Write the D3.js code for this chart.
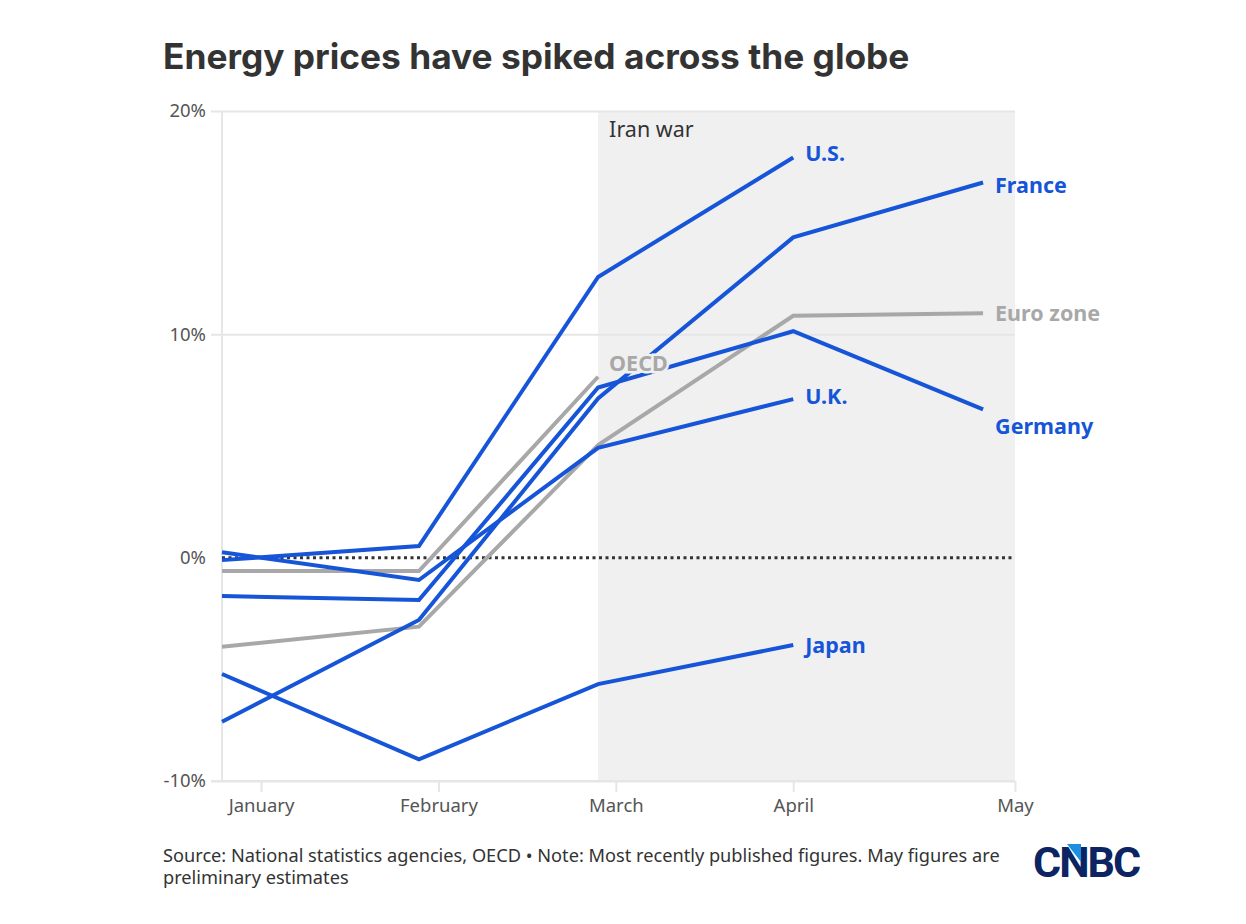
<!DOCTYPE html>
<html>
<head>
<meta charset="utf-8">
<script src="https://cdn.jsdelivr.net/npm/d3@7"></script>
<style>
  body { margin: 0; background: #fff; }
  svg text { font-family: "Noto Sans", "Open Sans", sans-serif; }
</style>
</head>
<body>
<svg id="chart" width="1246" height="924"></svg>
<script>
// months on a numeric axis (0 = January tick)
var monthTicks = [0, 1, 2, 3, 4.25];
var monthNames = ["January", "February", "March", "April", "May"];
var pointX = [-0.22, 0.89, 1.9, 3.0, 4.07];

var usValues = [-0.11, 0.52, 12.57, 17.92];
var franceValues = [-7.35, -2.79, 7.13, 14.34, 16.8];
var germanyValues = [-1.72, -1.9, 7.62, 10.14, 6.64];
var ukValues = [0.24, -1.0, 4.92, 7.1];
var japanValues = [-5.21, -9.03, -5.66, -3.91];
var oecdValues = [-0.6, -0.6, 8.1];
var euroValues = [-3.99, -3.09, 5.04, 10.83, 10.94];

var yTicks = [-10, 0, 10, 20];
var warStart = 1.9;

var blue = "#1655d8", grey = "#a8a8a8";

var series = [
    { name: "Euro zone", values: euroValues, color: grey, dx: 12, dy: 0 },
    { name: "OECD", values: oecdValues, color: grey, label: false },
    { name: "Japan", values: japanValues, color: blue, dx: 12, dy: 0 },
    { name: "U.K.", values: ukValues, color: blue, dx: 12, dy: -3 },
    { name: "Germany", values: germanyValues, color: blue, dx: 12, dy: 17 },
    { name: "France", values: franceValues, color: blue, dx: 12, dy: 3 },
    { name: "U.S.", values: usValues, color: blue, dx: 12, dy: -4 }
];

var svg = d3.select("#chart");
var margin = { top: 111, right: 231, bottom: 143, left: 222 };
var width = 1246 - margin.left - margin.right;
var height = 924 - margin.top - margin.bottom;

svg.append("text")
    .attr("x", 163)
    .attr("y", 69)
    .style("font-family", "Inter, 'Noto Sans', sans-serif")
    .style("font-size", "35.3px")
    .style("font-weight", "bold")
    .attr("fill", "#333")
    .text("Energy prices have spiked across the globe");

var g = svg.append("g").attr("transform", "translate(" + margin.left + "," + margin.top + ")");

var x = d3.scaleLinear()
    .domain([pointX[0], monthTicks[4]])
    .range([0, width]);

var y = d3.scaleLinear()
    .domain([-10, 20])
    .range([height, 0]);

// Iran war shading
g.append("rect")
    .attr("x", x(warStart))
    .attr("y", 0)
    .attr("width", width - x(warStart))
    .attr("height", height)
    .attr("fill", "#f0f0f0");

g.append("text")
    .attr("x", x(warStart) + 11)
    .attr("y", 26)
    .attr("fill", "#333")
    .style("font-size", "21.5px")
    .text("Iran war");

// Y grid + labels
var yAxis = g.append("g")
    .call(d3.axisLeft(y).tickValues(yTicks).tickSize(width + 11).tickFormat(function(d) { return d + "%"; }))
    .attr("transform", "translate(" + width + ",0)");
yAxis.select(".domain").remove();
yAxis.selectAll(".tick line")
    .attr("stroke", "#e6e6e6")
    .attr("stroke-width", 2)
    .attr("stroke-opacity", function(d) { return d === 0 ? 0 : 1; });
yAxis.selectAll(".tick text")
    .attr("fill", "#555")
    .attr("x", -width - 16)
    .style("font-size", "18.5px");

// vertical axis line
g.append("line")
    .attr("x1", 0).attr("x2", 0)
    .attr("y1", 0).attr("y2", height)
    .attr("stroke", "#e6e6e6")
    .attr("stroke-width", 2);

// X axis
var xAxis = g.append("g")
    .attr("transform", "translate(0," + height + ")")
    .call(d3.axisBottom(x).tickValues(monthTicks).tickSize(11).tickPadding(7)
        .tickFormat(function(d, i) { return monthNames[i]; }));
xAxis.select(".domain").attr("stroke", "#e6e6e6").attr("stroke-width", 2).attr("d", "M-11,0H" + width);
xAxis.selectAll(".tick line").attr("stroke", "#e6e6e6").attr("stroke-width", 2);
xAxis.selectAll(".tick text").attr("fill", "#555").style("font-size", "18.5px");

// zero line
g.append("line")
    .attr("x1", 0).attr("x2", width)
    .attr("y1", y(0)).attr("y2", y(0))
    .attr("stroke", "#333")
    .attr("stroke-width", 3)
    .attr("stroke-dasharray", "3,3.5");

var line = d3.line()
    .x(function(d, i) { return x(pointX[i]); })
    .y(function(d) { return y(d); });

// Attach lines
g.selectAll(".series")
    .data(series)
    .enter().append("path")
    .attr("class", "series")
    .attr("fill", "none")
    .attr("stroke", function(d) { return d.color; })
    .attr("stroke-width", 4)
    .attr("d", function(d) { return line(d.values); });

// OECD label with halo
g.append("text")
    .attr("x", x(pointX[oecdValues.length - 1]) + 11)
    .attr("y", y(oecdValues[oecdValues.length - 1]) - 6)
    .attr("fill", grey)
    .attr("stroke", "#f0f0f0")
    .attr("stroke-width", 5)
    .attr("paint-order", "stroke")
    .style("font-size", "21.5px")
    .style("font-weight", "bold")
    .text("OECD");

// end labels
g.selectAll(".end-label")
    .data(series.filter(function(d) { return d.label !== false; }))
    .enter().append("text")
    .attr("class", "end-label")
    .attr("x", function(d) { return x(pointX[d.values.length - 1]) + d.dx; })
    .attr("y", function(d) { return y(d.values[d.values.length - 1]) + d.dy; })
    .attr("dy", "0.35em")
    .attr("fill", function(d) { return d.color; })
    .style("font-size", "21.5px")
    .style("font-weight", "bold")
    .text(function(d) { return d.name; });

// footer
var foot = svg.append("text")
    .attr("x", 163)
    .attr("y", 862)
    .attr("fill", "#333")
    .style("font-size", "18.2px");
foot.append("tspan").attr("x", 163).text("Source: National statistics agencies, OECD \u2022 Note: Most recently published figures. May figures are");
foot.append("tspan").attr("x", 163).attr("dy", 22).text("preliminary estimates");

// logo
var logo = svg.append("g").attr("transform", "translate(1033,877)");
logo.append("text")
    .attr("x", 0).attr("y", 0)
    .attr("fill", "#0c2461")
    .style("font-family", "'Liberation Sans Narrow', Roboto, sans-serif")
    .style("font-size", "43px")
    .style("font-weight", "bold")
    .style("letter-spacing", "-2px")
    .text("CNBC");
logo.append("path")
    .attr("d", "M34,-33 L48,-33 L48,-15 Z")
    .attr("fill", "#1e8fe0");
</script>
</body>
</html>
